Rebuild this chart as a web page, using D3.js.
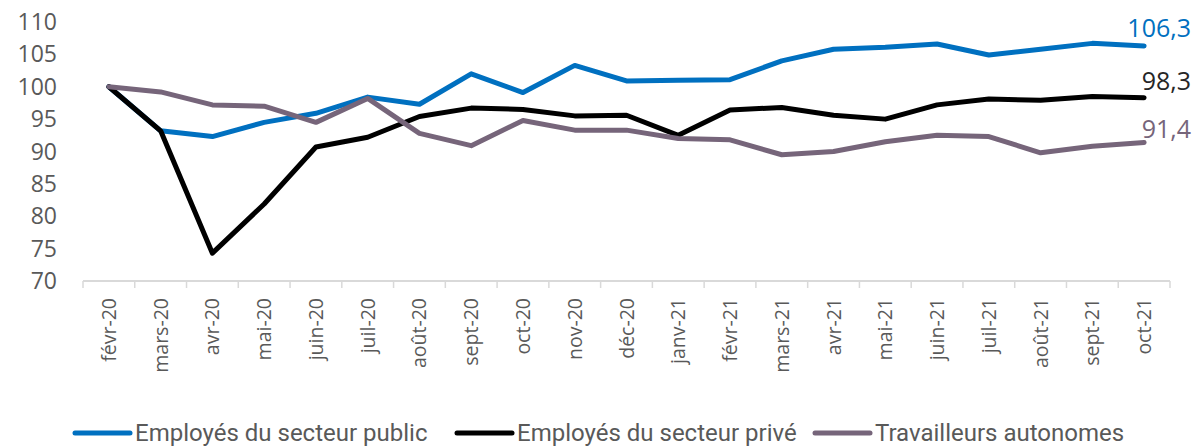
<!DOCTYPE html>
<html>
<head>
<meta charset="utf-8">
<script src="https://cdn.jsdelivr.net/npm/d3@7"></script>
<style>
  body { margin: 0; background: #fff; }
  svg text { font-family: "Open Sans", "Noto Sans", sans-serif; }
</style>
</head>
<body>
<svg id="chart"></svg>
<script>
// Data
const months = ["févr-20", "mars-20", "avr-20", "mai-20", "juin-20", "juil-20", "août-20", "sept-20",
  "oct-20", "nov-20", "déc-20", "janv-21", "févr-21", "mars-21", "avr-21", "mai-21", "juin-21",
  "juil-21", "août-21", "sept-21", "oct-21"];

const publicSector = [100, 93.2, 92.3, 94.5, 95.9, 98.4, 97.3, 102.0, 99.1, 103.3, 100.9, 101.0,
  101.1, 104.0, 105.8, 106.1, 106.6, 104.9, 105.8, 106.7, 106.3];
const privateSector = [100, 93.2, 74.3, 81.9, 90.7, 92.2, 95.4, 96.7, 96.5, 95.5, 95.6, 92.5,
  96.4, 96.8, 95.6, 95.0, 97.2, 98.1, 97.9, 98.5, 98.3];
const selfEmployed = [100, 99.2, 97.2, 97.0, 94.5, 98.2, 92.8, 90.9, 94.8, 93.3, 93.3, 92.0,
  91.8, 89.5, 90.0, 91.5, 92.5, 92.3, 89.8, 90.8, 91.4];

const seriesNames = ["Employés du secteur public", "Employés du secteur privé", "Travailleurs autonomes"];
const seriesColors = ["#0070C0", "#000000", "#76657A"];
const endLabels = ["106,3", "98,3", "91,4"];
const endLabelColors = ["#0070C0", "#262626", "#76657A"];
const yTicks = [70, 75, 80, 85, 90, 95, 100, 105, 110];

const W = 1197, H = 447;
const margin = { top: 22, right: 27, bottom: 166, left: 83 };

const svg = d3.select("#chart").attr("width", W).attr("height", H);

const x = d3.scaleBand()
    .domain(months)
    .range([margin.left, W - margin.right]);

const y = d3.scaleLinear()
    .domain([70, 110])
    .range([H - margin.bottom, margin.top]);

const y0 = y(70);

// Y labels
svg.append("g")
    .selectAll("text")
    .data(yTicks)
    .enter()
    .append("text")
    .attr("x", 57)
    .attr("y", d => y(d))
    .attr("dy", "0.35em")
    .attr("text-anchor", "end")
    .attr("font-size", 23)
    .attr("fill", "#595959")
    .text(d => d);

// X axis line + ticks between categories
const xAxis = svg.append("g");
xAxis.append("line")
    .attr("x1", x.range()[0]).attr("x2", x.range()[1])
    .attr("y1", y0).attr("y2", y0)
    .attr("stroke", "#D9D9D9").attr("stroke-width", 2);

const edges = months.map(m => x(m)).concat([x.range()[1]]);
xAxis.selectAll(".tick")
    .data(edges)
    .enter()
    .append("line")
    .attr("x1", d => d).attr("x2", d => d)
    .attr("y1", y0).attr("y2", y0 + 7)
    .attr("stroke", "#D9D9D9").attr("stroke-width", 1.5);

xAxis.selectAll(".xlab")
    .data(months)
    .enter()
    .append("text")
    .attr("transform", d => `translate(${x(d) + x.bandwidth() / 2 + 7},${y0 + 17}) rotate(-90)`)
    .attr("text-anchor", "end")
    .attr("font-size", 19.5)
    .attr("fill", "#595959")
    .text(d => d);

// Lines
const allSeries = [publicSector, privateSector, selfEmployed];
const line = d3.line()
    .x((d, i) => x(months[i]) + x.bandwidth() / 2)
    .y(d => y(d));

allSeries.forEach((s, i) => {
    svg.append("path")
        .datum(s)
        .attr("fill", "none")
        .attr("stroke", seriesColors[i])
        .attr("stroke-width", 5)
        .attr("stroke-linejoin", "round")
        .attr("stroke-linecap", "round")
        .attr("d", line);
});

// End labels
const endY = [28, 81, 129];
endLabels.forEach((t, i) => {
    svg.append("text")
        .attr("x", 1191)
        .attr("y", endY[i])
        .attr("dy", "0.35em")
        .attr("text-anchor", "end")
        .attr("font-size", 25)
        .attr("fill", endLabelColors[i])
        .text(t);
});

// Legend
const legendX = [75, 457, 815];
const legend = svg.append("g");
seriesNames.forEach((name, i) => {
    legend.append("line")
        .attr("x1", legendX[i]).attr("x2", legendX[i] + 55)
        .attr("y1", 433).attr("y2", 433)
        .attr("stroke", seriesColors[i])
        .attr("stroke-width", 5)
        .attr("stroke-linecap", "round");
    legend.append("text")
        .attr("x", legendX[i] + 60)
        .attr("y", 441)
        .attr("font-size", 24)
        .attr("fill", "#595959")
        .style("font-family", "'Liberation Sans Narrow', 'Roboto', sans-serif")
        .text(name);
});
</script>
</body>
</html>
